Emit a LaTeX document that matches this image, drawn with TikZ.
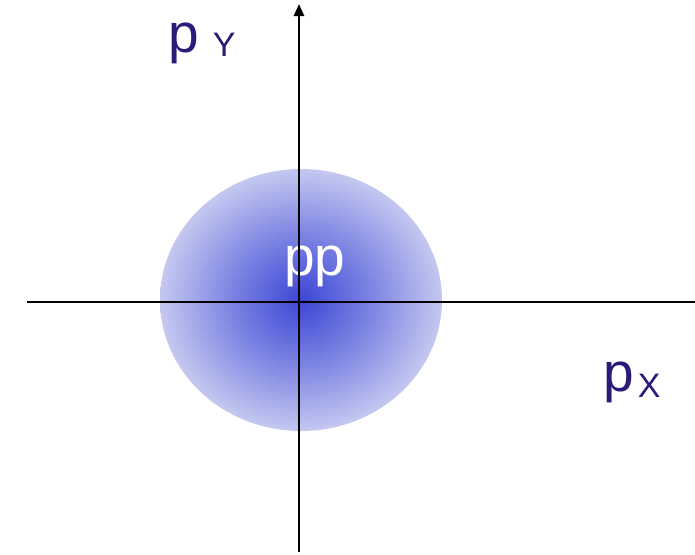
\documentclass[tikz,border=0pt]{standalone}
\usepackage{fontspec}
\setmainfont{Liberation Sans}
\usetikzlibrary{arrows.meta}
\definecolor{labelnavy}{RGB}{42,26,122}
\definecolor{cloudin}{RGB}{60,70,212}
\definecolor{cloudmid}{RGB}{122,130,226}
\definecolor{cloudout}{RGB}{196,200,240}
\pgfdeclareradialshading{cloud}{\pgfpoint{0bp}{0bp}}{color(0bp)=(cloudin); color(12bp)=(cloudmid); color(25bp)=(cloudout); color(50bp)=(cloudout)}
\tikzset{
	axisline/.style={line width=2.6pt, black},
	axislabel/.style={anchor=base west, inner sep=0pt, text=labelnavy, font=\fontsize{55}{55}\selectfont}
}
\begin{document}
\begin{tikzpicture}[x=1pt, y=-1pt]
			\useasboundingbox (0,0) rectangle (695,554);
			% momentum cloud
			\shade[shading=cloud] (301,300) ellipse (141 and 131);
			\node[axislabel, text=white] (pp) at (284,275) {pp};
			% axes
			\coordinate (xleft) at (27,302);
			\coordinate (xright) at (695,302);
			\coordinate (ybottom) at (299,552);
			\coordinate (ytop) at (299,4);
			\draw[axisline] (xleft) -- (xright);
			\draw[axisline, -{Triangle[width=10pt,length=12pt]}] (ybottom) -- (ytop);
			% labels
			\node[axislabel] (py) at (168,52) {p\kern14pt\raisebox{-4pt}{\fontsize{34}{34}\selectfont Y}};
			\node[axislabel] (px) at (603,391) {p\kern4pt\raisebox{-6pt}{\fontsize{34}{34}\selectfont X}};
		\end{tikzpicture}
\end{document}
